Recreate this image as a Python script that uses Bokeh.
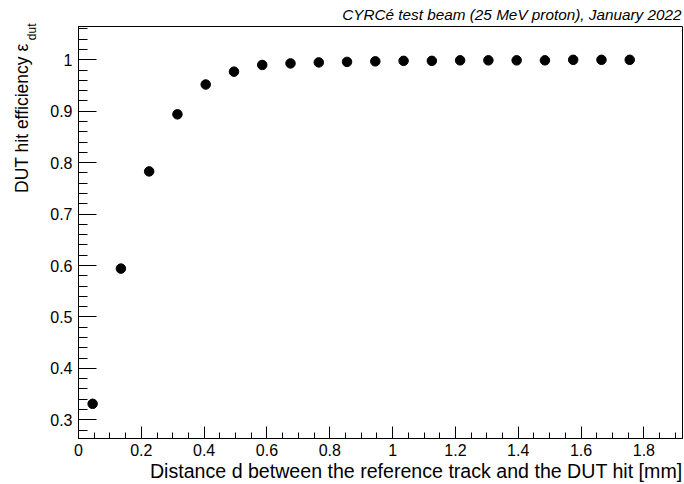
import numpy as np
from bokeh.plotting import figure
from bokeh.models import Label, Range1d, SingleIntervalTicker, Title
from bokeh.embed import file_html
from bokeh.resources import INLINE

# Data
distance_mm = [0.045, 0.135, 0.225, 0.315, 0.405, 0.495, 0.585, 0.675, 0.765, 0.855,
               0.945, 1.035, 1.125, 1.215, 1.305, 1.395, 1.485, 1.575, 1.665, 1.755]
efficiency = [0.331, 0.594, 0.783, 0.894, 0.952, 0.977, 0.990, 0.993, 0.995, 0.996,
              0.997, 0.998, 0.998, 0.999, 0.999, 0.999, 0.999, 1.000, 1.000, 1.000]

title_text = "CYRCé test beam (25 MeV proton), January 2022"
x_title = "Distance d between the reference track and the DUT hit [mm]"
y_title = "DUT hit efficiency ε"
y_title_sub = "dut"

FONT = "Liberation Sans"
W, H = 684, 484

p = figure(width=W, height=H, output_backend="svg", toolbar_location=None,
           x_range=Range1d(0, 1.923), y_range=Range1d(0.2636, 1.0648),
           min_border_left=78, min_border_right=2, min_border_top=26, min_border_bottom=46)
p.xgrid.visible = False
p.ygrid.visible = False
p.outline_line_color = "black"
p.outline_line_width = 1
p.background_fill_color = "white"
p.border_fill_color = "white"

p.title.text = title_text
p.title.align = "right"
p.title.offset = 1
p.title.standoff = 7
p.title.text_font = FONT
p.title.text_font_style = "italic"
p.title.text_font_size = "15.3px"
p.title.text_color = "black"

p.xaxis.ticker = SingleIntervalTicker(interval=0.2, num_minor_ticks=4)
p.yaxis.ticker = SingleIntervalTicker(interval=0.1, num_minor_ticks=5)

for ax in (p.xaxis[0], p.yaxis[0]):
    ax.axis_line_color = "black"
    ax.major_tick_line_color = "black"
    ax.minor_tick_line_color = "black"
    ax.major_tick_out = 0
    ax.minor_tick_out = 0
    ax.major_label_text_font = FONT
    ax.major_label_text_font_size = "16px"
    ax.major_label_text_color = "black"

p.xaxis.major_tick_in = 12
p.xaxis.minor_tick_in = 6
p.yaxis.major_tick_in = 18
p.yaxis.minor_tick_in = 9
p.xaxis.major_label_standoff = 5
p.yaxis.major_label_standoff = 6

p.scatter(distance_mm, efficiency, size=9.5, color="black")

p.add_layout(Title(text=x_title, align="right", vertical_align="top", standoff=2,
                   text_font=FONT, text_font_size="19.6px", text_font_style="normal",
                   text_color="black"), "below")

# side-panel labels: x measured from their own panel edge
p.add_layout(Label(x=-6, y=395, x_units="screen", y_units="screen", text=y_title,
                   angle=np.pi / 2, text_align="right", text_baseline="alphabetic",
                   text_font=FONT, text_font_size="17.5px", text_color="black"), "left")
p.add_layout(Label(x=18, y=415, x_units="screen", y_units="screen", text=y_title_sub,
                   angle=np.pi / 2, text_align="right", text_baseline="alphabetic",
                   text_font=FONT, text_font_size="12px", text_color="black"), "left")

open("out.html", "w").write(file_html(p, INLINE))
